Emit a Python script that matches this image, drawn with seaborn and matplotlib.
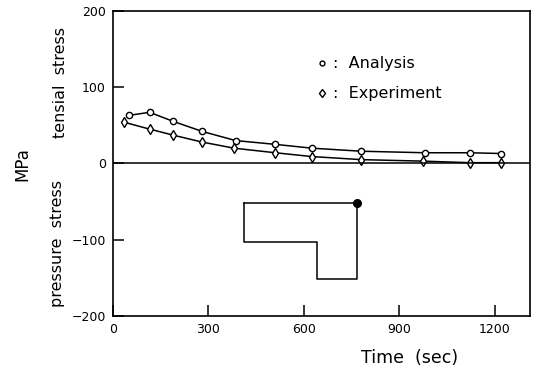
import matplotlib
matplotlib.use("Agg")
import matplotlib.pyplot as plt
import pandas as pd
import seaborn as sns

# values
time_ana = [50, 115, 190, 280, 385, 510, 625, 780, 980, 1120, 1220]
stress_ana = [63, 67, 55, 42, 30, 25, 20, 16, 14, 14, 13]
time_exp = [35, 115, 190, 280, 380, 510, 625, 780, 975, 1120, 1220]
stress_exp = [54, 45, 37, 28, 20, 14, 9, 5, 3, 1, 1]

# cross-section sketch (L shape) and the measuring point
shape_x = [410, 765, 765, 640, 640, 410, 410]
shape_y = [-52, -52, -152, -152, -103, -103, -52]
point_x, point_y = 765, -52

x_ticks = [0, 300, 600, 900, 1200]
y_ticks = [-200, -100, 0, 100, 200]

sns.set_style("ticks")
plt.rcParams['font.family'] = ['DejaVu Sans']
plt.rcParams['text.color'] = 'black'
plt.rcParams['xtick.color'] = 'black'
plt.rcParams['ytick.color'] = 'black'
plt.rcParams['axes.edgecolor'] = 'black'

fig = plt.figure(figsize=(5.37, 3.74), dpi=100)
ax = fig.add_axes([0.2104, 0.155, 0.7766, 0.816])

df_ana = pd.DataFrame({'t': time_ana, 's': stress_ana})
df_exp = pd.DataFrame({'t': time_exp, 's': stress_exp})
sns.lineplot(data=df_ana, x='t', y='s', ax=ax, color='black', lw=1.1,
             marker='o', ms=4.5, mfc='white', mec='black', mew=1.0)
sns.lineplot(data=df_exp, x='t', y='s', ax=ax, color='black', lw=1.1,
             marker='d', ms=5.5, mfc='white', mec='black', mew=1.0)

ax.axhline(0, color='black', lw=1.1)
ax.plot(shape_x, shape_y, color='black', lw=1.1)
ax.plot([point_x], [point_y], 'o', color='black', ms=5.5)

# legend drawn as plain marker + text
ax.plot([657], [131], 'o', color='black', mfc='white', ms=3.5, mew=1.0)
ax.text(690, 131, ':  Analysis', fontsize=11.5, va='center')
ax.plot([657], [92], 'd', color='black', mfc='white', ms=4.5, mew=1.0)
ax.text(690, 92, ':  Experiment', fontsize=11.5, va='center')

ax.set_xlim(0, 1310)
ax.set_ylim(-200, 200)
ax.set_xticks(x_ticks)
ax.set_yticks(y_ticks)
ax.tick_params(direction='in', length=8, width=1.1, labelsize=9, pad=5)
for sp in ax.spines.values():
    sp.set_linewidth(1.2)
ax.set_xlabel('')
ax.set_ylabel('')

fig.text(0.762, 0.043, 'Time  (sec)', fontsize=12.5, ha='center', va='center')
fig.text(0.042, 0.56, 'MPa', fontsize=12, rotation=90, ha='center', va='center')
fig.text(0.112, 0.78, 'tensial  stress', fontsize=11.5, rotation=90, ha='center', va='center')
fig.text(0.108, 0.35, 'pressure  stress', fontsize=11.5, rotation=90, ha='center', va='center')

fig.savefig('out.png', dpi=100)
